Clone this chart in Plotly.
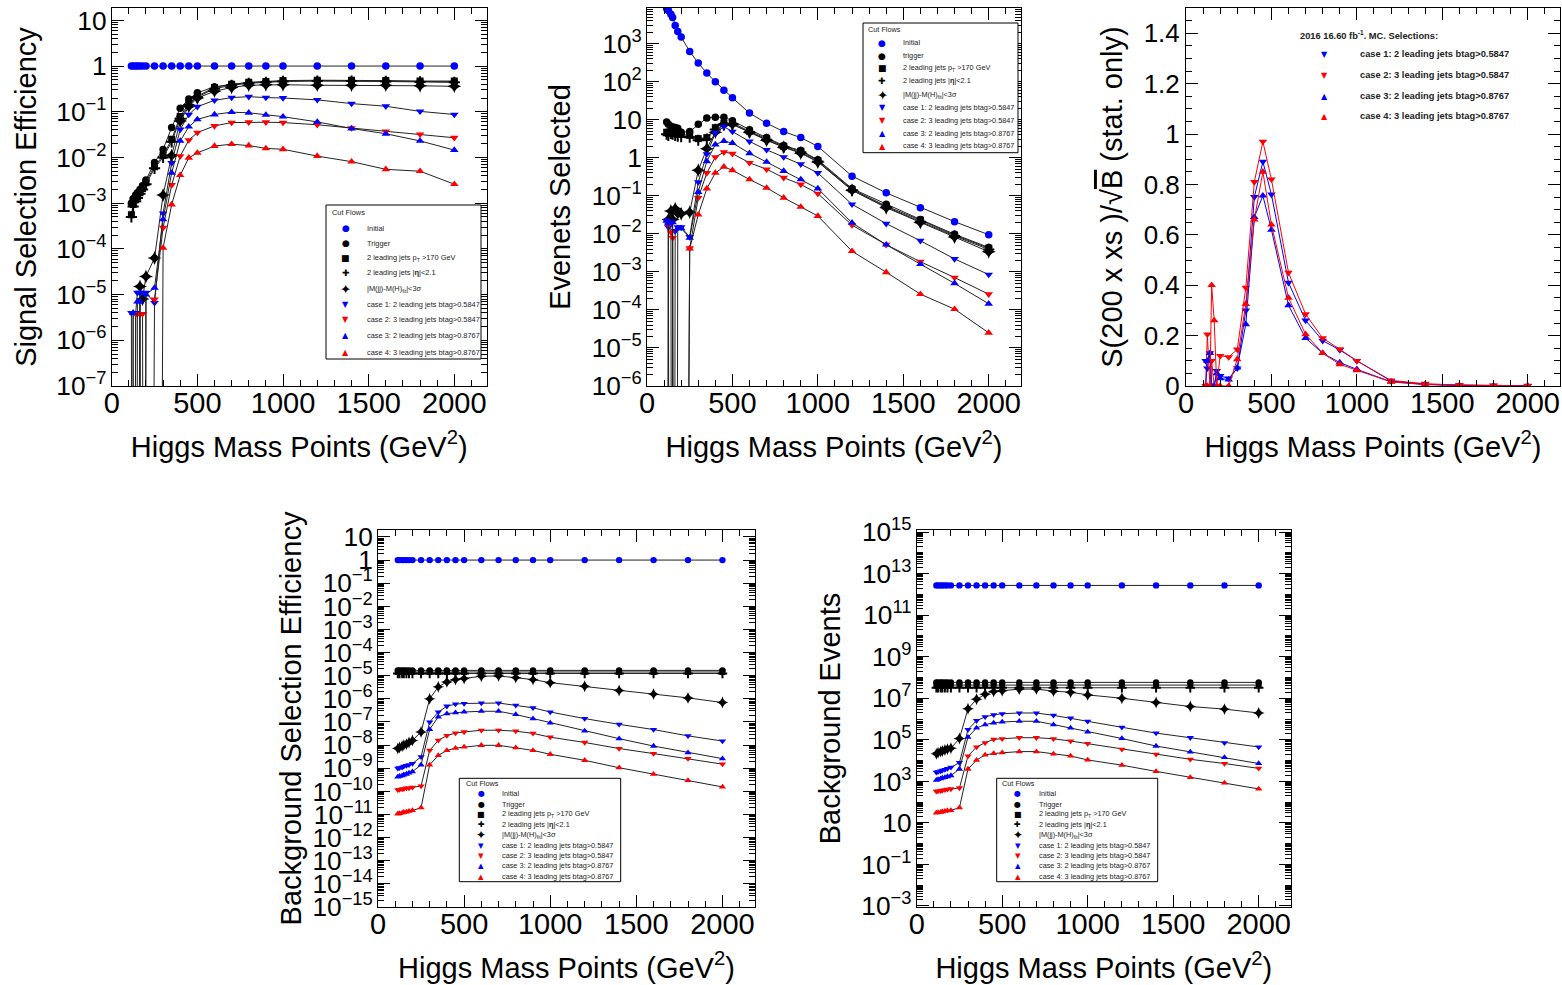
import plotly.graph_objects as go

W, H = 1562, 985

# ---------------- data ----------------
MASS = [115, 125, 140, 150, 165, 180, 200, 250, 300, 350, 400, 450, 500,
        600, 700, 800, 900, 1000, 1200, 1400, 1600, 1800, 2000]
X_TICKS = [0, 500, 1000, 1500, 2000]

SERIES_NAMES = ["Initial", "Trigger", "2 leading jets p<sub>T</sub> >170 GeV",
                "2 leading jets |<b>η</b>|<2.1", "|M(jj)-M(H)<sub>fit</sub>|<3σ",
                "case 1: 2 leading jets btag>0.5847", "case 2: 3 leading jets btag>0.5847",
                "case 3: 2 leading jets btag>0.8767", "case 4: 3 leading jets btag>0.8767"]
SERIES_NAMES_P2 = ["Initial", "trigger"] + SERIES_NAMES[2:]

# Panel 1: signal selection efficiency
sig_eff_initial = [1, 1, 1, 1, 1, 1, 1, 1, 1, 1, 1, 1, 1, 1, 1, 1, 1, 1, 1, 1, 1, 1, 1]
sig_eff_trigger = [1.0e-3, 1.25e-3, 1.5e-3, 1.7e-3, 2.0e-3, 2.4e-3, 3.2e-3, 7.8e-3, 1.5e-2, 4.5e-2, 1.2e-1, 1.9e-1,
                   2.6e-1, 3.5e-1, 4.0e-1, 4.3e-1, 4.5e-1, 4.7e-1, 4.8e-1, 4.8e-1, 4.7e-1, 4.6e-1, 4.5e-1]
sig_eff_pt = [5.6e-4, 9.3e-4, 1.2e-3, 1.4e-3, 1.7e-3, 2.1e-3, 2.8e-3, 6.3e-3, 1.1e-2, 2.5e-2, 7.9e-2, 1.5e-1,
              2.2e-1, 3.4e-1, 4.0e-1, 4.4e-1, 4.6e-1, 4.8e-1, 4.9e-1, 4.9e-1, 4.8e-1, 4.7e-1, 4.7e-1]
sig_eff_eta = [5.0e-4, 8.5e-4, 1.1e-3, 1.3e-3, 1.6e-3, 2.0e-3, 2.6e-3, 5.8e-3, 1.0e-2, 2.2e-2, 7.0e-2, 1.4e-1,
               2.1e-1, 3.2e-1, 3.8e-1, 4.2e-1, 4.4e-1, 4.6e-1, 4.7e-1, 4.7e-1, 4.6e-1, 4.5e-1, 4.4e-1]
sig_eff_mjj = [0, 0, 0, 0, 1.5e-5, 8.0e-6, 2.5e-5, 6.3e-5, 1.5e-3, 1.1e-2, 6.3e-2, 1.3e-1,
               2.0e-1, 2.8e-1, 3.4e-1, 3.8e-1, 3.9e-1, 3.9e-1, 3.8e-1, 3.8e-1, 3.8e-1, 3.7e-1, 3.6e-1]
sig_eff_case1 = [4.0e-6, 0, 4.0e-6, 1.1e-5, 1.1e-5, 0, 1.1e-5, 6.6e-6, 6.0e-4, 7.6e-3, 4.1e-2, 8.7e-2,
                 1.29e-1, 1.78e-1, 2.04e-1, 2.14e-1, 2.04e-1, 2.0e-1, 1.82e-1, 1.51e-1, 1.32e-1, 1.02e-1, 8.7e-2]
sig_eff_case2 = [0, 0, 3.8e-6, 3.8e-6, 3.8e-6, 3.8e-6, 0, 7.9e-6, 2.9e-4, 2.5e-3, 1.07e-2, 2.4e-2,
                 3.5e-2, 4.9e-2, 5.8e-2, 5.9e-2, 5.9e-2, 5.8e-2, 5.2e-2, 4.4e-2, 3.7e-2, 3.2e-2, 2.7e-2]
sig_eff_case3 = [0, 4.0e-6, 0, 7.0e-6, 7.0e-6, 0, 1.0e-5, 1.4e-5, 4.4e-4, 4.6e-3, 2.3e-2, 4.7e-2,
                 6.8e-2, 8.7e-2, 9.8e-2, 9.5e-2, 8.5e-2, 7.8e-2, 6.0e-2, 4.3e-2, 3.3e-2, 2.3e-2, 1.45e-2]
sig_eff_case4 = [0, 0, 0, 0, 0, 0, 0, 0, 1.05e-4, 9.3e-4, 4.1e-3, 9.8e-3,
                 1.26e-2, 1.78e-2, 1.95e-2, 1.82e-2, 1.58e-2, 1.51e-2, 1.07e-2, 8.1e-3, 5.5e-3, 5.0e-3, 2.6e-3]

# Panel 2: signal events selected
ev_initial = [8500, 7500, 6000, 4900, 3000, 2100, 1500, 630, 310, 170, 100, 60,
              38, 15, 8.1, 4.9, 3.4, 2.0, 0.33, 0.12, 0.049, 0.021, 0.0095]
ev_trigger = [8.7, 7.6, 6.8, 6.5, 6.3, 6.0, 4.7, 4.9, 7.6, 11.2, 11.7, 11.7,
              9.5, 5.5, 3.4, 2.1, 1.55, 0.89, 0.155, 0.060, 0.024, 0.0098, 0.0044]
ev_pt = [4.7, 4.4, 4.9, 4.7, 4.4, 4.1, 4.1, 3.9, 3.2, 3.4, 6.2, 8.0,
         8.3, 5.0, 3.2, 2.0, 1.5, 0.85, 0.148, 0.054, 0.023, 0.0093, 0.0042]
ev_eta = [4.2, 3.9, 4.4, 4.2, 3.9, 3.7, 3.6, 3.5, 2.9, 3.1, 5.6, 7.3,
          7.6, 4.7, 3.0, 1.9, 1.4, 0.80, 0.140, 0.051, 0.021, 0.0088, 0.0039]
ev_mjj = [0, 0.024, 0.040, 0.024, 0.046, 0.035, 0.034, 0.037, 0.47, 1.74, 4.7, 7.8,
          7.6, 4.7, 2.9, 1.9, 1.32, 0.78, 0.141, 0.049, 0.020, 0.0083, 0.0034]
ev_case1 = [0.022, 0.015, 0.020, 0, 0.012, 0.015, 0.015, 0.0083, 0.23, 1.26, 4.5, 6.6,
            4.9, 2.7, 1.62, 1.05, 0.68, 0.40, 0.060, 0.0186, 0.0066, 0.0022, 0.00085]
ev_case2 = [0, 0.017, 0.011, 0.0079, 0, 0, 0, 0.0042, 0.089, 0.40, 1.05, 1.41,
            1.29, 0.74, 0.50, 0.30, 0.20, 0.115, 0.017, 0.0052, 0.00186, 0.00071, 0.00026]
ev_case3 = [0.022, 0.019, 0, 0.020, 0, 0.014, 0.014, 0.0079, 0.126, 0.81, 2.24, 2.75,
            2.45, 1.32, 0.78, 0.45, 0.27, 0.155, 0.0195, 0.0052, 0.0016, 0.0005, 0.000145]
ev_case4 = [0, 0, 0, 0, 0, 0, 0, 0.0041, 0.032, 0.155, 0.40, 0.58,
            0.47, 0.27, 0.162, 0.089, 0.051, 0.0295, 0.0035, 0.00098, 0.00026, 0.000105, 0.000025]

# Panel 3: S/sqrt(B)
sb_case1 = [0.10, 0.07, 0.13, 0.0, 0.0, 0.06, 0.04, 0.03, 0.07, 0.30, 0.75, 0.89,
            0.76, 0.41, 0.26, 0.18, 0.143, 0.10, 0.02, 0.007, 0.003, 0.001, 0.0]
sb_case2 = [0.0, 0.205, 0.0, 0.10, 0.0, 0.0, 0.12, 0.115, 0.145, 0.39, 0.81, 0.97,
            0.82, 0.45, 0.285, 0.19, 0.146, 0.10, 0.022, 0.009, 0.004, 0.002, 0.001]
sb_case3 = [0.0, 0.10, 0.13, 0.0, 0.0, 0.05, 0.03, 0.025, 0.073, 0.245, 0.67, 0.755,
            0.62, 0.32, 0.19, 0.13, 0.093, 0.066, 0.017, 0.006, 0.002, 0.001, 0.0]
sb_case4 = [0.0, 0.0, 0.0, 0.40, 0.26, 0.0, 0.0, 0.0, 0.106, 0.325, 0.66, 0.85,
            0.64, 0.35, 0.205, 0.13, 0.086, 0.062, 0.016, 0.006, 0.003, 0.001, 0.0]
SB_NAMES = ["case 1: 2 leading jets btag>0.5847", "case 2: 3 leading jets btag>0.5847",
            "case 3: 2 leading jets btag>0.8767", "case 4: 3 leading jets btag>0.8767"]

# Panel 4: background selection efficiency
bg_eff_initial = [1, 1, 1, 1, 1, 1, 1, 1, 1, 1, 1, 1, 1, 1, 1, 1, 1, 1, 1, 1, 1, 1, 1]
bg_eff_trigger = [1.7e-5, 1.7e-5, 1.7e-5, 1.7e-5, 1.7e-5, 1.7e-5, 1.7e-5, 1.7e-5, 1.7e-5, 1.7e-5, 1.7e-5, 1.7e-5,
                  1.7e-5, 1.7e-5, 1.7e-5, 1.7e-5, 1.7e-5, 1.7e-5, 1.7e-5, 1.7e-5, 1.7e-5, 1.7e-5, 1.7e-5]
bg_eff_pt = [1.45e-5, 1.45e-5, 1.45e-5, 1.45e-5, 1.45e-5, 1.45e-5, 1.45e-5, 1.45e-5, 1.45e-5, 1.45e-5, 1.45e-5, 1.45e-5,
             1.45e-5, 1.45e-5, 1.45e-5, 1.45e-5, 1.45e-5, 1.45e-5, 1.45e-5, 1.45e-5, 1.45e-5, 1.45e-5, 1.45e-5]
bg_eff_eta = [1.25e-5, 1.25e-5, 1.25e-5, 1.25e-5, 1.25e-5, 1.25e-5, 1.25e-5, 1.25e-5, 1.25e-5, 1.25e-5, 1.25e-5, 1.25e-5,
              1.25e-5, 1.25e-5, 1.25e-5, 1.25e-5, 1.25e-5, 1.25e-5, 1.25e-5, 1.25e-5, 1.25e-5, 1.25e-5, 1.25e-5]
bg_eff_mjj = [7.1e-9, 7.9e-9, 8.9e-9, 1.0e-8, 1.1e-8, 1.3e-8, 1.6e-8, 3.7e-8, 1.0e-6, 3.3e-6, 5.4e-6, 6.8e-6,
              7.6e-6, 9.5e-6, 9.8e-6, 8.3e-6, 6.8e-6, 5.0e-6, 3.5e-6, 2.3e-6, 1.6e-6, 1.1e-6, 6.9e-7]
bg_eff_case1 = [1.0e-9, 1.05e-9, 1.1e-9, 1.2e-9, 1.3e-9, 1.4e-9, 1.6e-9, 3.1e-9, 1.0e-7, 2.7e-7, 4.8e-7, 5.9e-7,
                6.3e-7, 6.6e-7, 6.6e-7, 5.2e-7, 4.1e-7, 2.7e-7, 1.4e-7, 7.9e-8, 4.7e-8, 2.5e-8, 1.5e-8]
bg_eff_case2 = [1.17e-10, 1.2e-10, 1.26e-10, 1.3e-10, 1.38e-10, 1.4e-10, 1.5e-10, 1.7e-10, 5.9e-9, 1.6e-8, 2.6e-8, 3.3e-8,
                3.7e-8, 4.4e-8, 4.4e-8, 4.0e-8, 3.2e-8, 2.2e-8, 1.3e-8, 7.1e-9, 4.3e-9, 2.6e-9, 1.5e-9]
bg_eff_case3 = [4.2e-10, 4.5e-10, 4.8e-10, 5.2e-10, 5.6e-10, 6.3e-10, 7.1e-10, 1.4e-9, 4.8e-8, 1.66e-7, 2.3e-7, 2.5e-7,
                2.7e-7, 2.9e-7, 2.9e-7, 2.1e-7, 1.4e-7, 9.1e-8, 4.1e-8, 1.9e-8, 9.1e-9, 4.7e-9, 2.6e-9]
bg_eff_case4 = [1.07e-11, 1.1e-11, 1.17e-11, 1.26e-11, 1.3e-11, 1.4e-11, 1.5e-11, 1.95e-11, 1.4e-9, 3.6e-9, 5.9e-9, 7.4e-9,
                8.3e-9, 9.8e-9, 9.8e-9, 7.8e-9, 5.9e-9, 4.0e-9, 2.2e-9, 1.05e-9, 5.5e-10, 3.0e-10, 1.55e-10]

# Panel 5: background events
bg_ev_initial = [2.7e12, 2.7e12, 2.7e12, 2.7e12, 2.7e12, 2.7e12, 2.7e12, 2.7e12, 2.7e12, 2.7e12, 2.7e12, 2.7e12,
                 2.7e12, 2.7e12, 2.7e12, 2.7e12, 2.7e12, 2.7e12, 2.7e12, 2.7e12, 2.7e12, 2.7e12, 2.7e12]
bg_ev_trigger = [5.8e7, 5.8e7, 5.8e7, 5.8e7, 5.8e7, 5.8e7, 5.8e7, 5.8e7, 5.8e7, 5.8e7, 5.8e7, 5.8e7,
                 5.8e7, 5.8e7, 5.8e7, 5.8e7, 5.8e7, 5.8e7, 5.8e7, 5.8e7, 5.8e7, 5.8e7, 5.8e7]
bg_ev_pt = [4.3e7, 4.3e7, 4.3e7, 4.3e7, 4.3e7, 4.3e7, 4.3e7, 4.3e7, 4.3e7, 4.3e7, 4.3e7, 4.3e7,
            4.3e7, 4.3e7, 4.3e7, 4.3e7, 4.3e7, 4.3e7, 4.3e7, 4.3e7, 4.3e7, 4.3e7, 4.3e7]
bg_ev_eta = [3.2e7, 3.2e7, 3.2e7, 3.2e7, 3.2e7, 3.2e7, 3.2e7, 3.2e7, 3.2e7, 3.2e7, 3.2e7, 3.2e7,
             3.2e7, 3.2e7, 3.2e7, 3.2e7, 3.2e7, 3.2e7, 3.2e7, 3.2e7, 3.2e7, 3.2e7, 3.2e7]
bg_ev_mjj = [2.1e4, 2.4e4, 2.7e4, 2.9e4, 3.2e4, 3.5e4, 3.9e4, 1.15e5, 3.1e6, 8.9e6, 1.55e7, 2.1e7,
             2.3e7, 2.75e7, 2.75e7, 2.2e7, 1.95e7, 1.45e7, 1.0e7, 6.2e6, 4.0e6, 3.0e6, 1.95e6]
bg_ev_case1 = [2.7e3, 2.9e3, 3.1e3, 3.4e3, 3.7e3, 4.1e3, 4.7e3, 7.9e3, 3.1e5, 8.3e5, 1.26e6, 1.6e6,
               1.8e6, 1.95e6, 1.95e6, 1.5e6, 1.1e6, 7.8e5, 4.0e5, 2.1e5, 1.26e5, 7.2e4, 4.5e4]
bg_ev_case2 = [330, 340, 350, 370, 390, 410, 430, 480, 1.66e4, 4.5e4, 7.2e4, 1.05e5,
               1.12e5, 1.26e5, 1.26e5, 1.12e5, 8.7e4, 6.5e4, 3.5e4, 2.0e4, 1.15e4, 7.2e3, 4.2e3]
bg_ev_case3 = [1.15e3, 1.25e3, 1.35e3, 1.45e3, 1.55e3, 1.7e3, 1.9e3, 3.9e3, 1.35e5, 3.7e5, 5.4e5, 6.5e5,
               7.2e5, 7.8e5, 7.8e5, 5.4e5, 3.7e5, 2.4e5, 1.15e5, 5.0e4, 2.6e4, 1.4e4, 7.2e3]
bg_ev_case4 = [30, 32, 33, 35, 37, 39, 40, 54, 3.9e3, 1.05e4, 1.86e4, 2.2e4,
               2.4e4, 2.7e4, 2.7e4, 2.1e4, 1.66e4, 1.07e4, 6.0e3, 3.0e3, 1.55e3, 830, 430]

# ---------------- styling ----------------
FONT = "Liberation Sans, Arial, Helvetica, sans-serif"
BLUE = "#0000ff"
RED = "#ff0000"
BLACK = "#000000"
# (plotly symbol, colour, size, legend glyph, glyph scale)
STYLES = [("circle", BLUE, 7.5, "●", 1.0), ("circle", BLACK, 7.5, "●", 1.0),
          ("square", BLACK, 7, "■", 1.0), ("cross-thin", BLACK, 8, "✚", 1.0),
          ("star-diamond", BLACK, 10, "✦", 1.5), ("triangle-down", BLUE, 7.5, "▼", 0.9),
          ("triangle-down", RED, 7.5, "▼", 0.9), ("triangle-up", BLUE, 7.5, "▲", 0.9),
          ("triangle-up", RED, 7.5, "▲", 0.9)]
SB_STYLES = [STYLES[5], STYLES[6], STYLES[7], STYLES[8]]

TINY = 1e-40  # zero entries drawn as a drop to the bottom of a log axis


def floor_zero(vals):
    return [v if v > 0 else TINY for v in vals]


def pxx(x):
    return x / W


def pxy(y):
    return 1 - y / H


fig = go.Figure()

panels = [
    ("", [sig_eff_initial, sig_eff_trigger, sig_eff_pt, sig_eff_eta, sig_eff_mjj,
          sig_eff_case1, sig_eff_case2, sig_eff_case3, sig_eff_case4], 1.0),
    ("2", [ev_initial, ev_trigger, ev_pt, ev_eta, ev_mjj,
           ev_case1, ev_case2, ev_case3, ev_case4], 1.0),
    ("4", [bg_eff_initial, bg_eff_trigger, bg_eff_pt, bg_eff_eta, bg_eff_mjj,
           bg_eff_case1, bg_eff_case2, bg_eff_case3, bg_eff_case4], 0.85),
    ("5", [bg_ev_initial, bg_ev_trigger, bg_ev_pt, bg_ev_eta, bg_ev_mjj,
           bg_ev_case1, bg_ev_case2, bg_ev_case3, bg_ev_case4], 0.85),
]
for suffix, series, scale in panels:
    for vals, (sym, col, size, _, _), name in zip(series, STYLES, SERIES_NAMES):
        mline = dict(width=2, color=col) if sym == "cross-thin" else dict(width=0)
        fig.add_trace(go.Scatter(
            x=MASS, y=floor_zero(vals), mode="lines+markers", name=name,
            line=dict(color="#222222", width=1),
            marker=dict(symbol=sym, color=col, size=size * scale, line=mline),
            xaxis="x" + suffix, yaxis="y" + suffix, showlegend=False))

for vals, (sym, col, size, _, _), name in zip([sb_case1, sb_case2, sb_case3, sb_case4], SB_STYLES, SB_NAMES):
    fig.add_trace(go.Scatter(
        x=MASS, y=vals, mode="lines+markers", name=name,
        line=dict(color=col, width=1),
        marker=dict(symbol=sym, color=col, size=size, line=dict(width=0)),
        xaxis="x3", yaxis="y3", showlegend=False))

TICKFONT_X = dict(family=FONT, size=29, color="black")
TITLEFONT = dict(family=FONT, size=29, color="black")
XTITLE = "Higgs Mass Points (GeV<sup>2</sup>)"


def xaxis(domain, anchor):
    return dict(domain=domain, anchor=anchor, range=[0, 2189], tickvals=X_TICKS,
                ticktext=[str(v) for v in X_TICKS], automargin=False, ticklabelstandoff=-9,
                ticks="inside", ticklen=12, tickcolor="black", showline=True, linecolor="black",
                linewidth=1, mirror="ticks", showgrid=False, zeroline=False,
                minor=dict(ticks="inside", ticklen=6, dtick=100, tick0=0, tickcolor="black", showgrid=False),
                tickfont=TICKFONT_X, title=dict(text=XTITLE, font=TITLEFONT, standoff=18))


def ylog(domain, anchor, rng, title, dtick=1, tick0=0, standoff=12):
    return dict(domain=domain, anchor=anchor, type="log", range=rng, dtick=dtick, tick0=tick0,
                exponentformat="power", ticks="inside", ticklen=12, tickcolor="black",
                showline=True, linecolor="black", linewidth=1, mirror="ticks",
                showgrid=False, zeroline=False, automargin=False,
                minor=dict(ticks="inside", ticklen=6, dtick="D1", tickcolor="black", showgrid=False),
                tickfont=dict(family=FONT, size=21, color="black"),
                title=dict(text=title, font=TITLEFONT, standoff=standoff))


TOP = [pxy(386), pxy(8)]
BOT = [pxy(907), pxy(530)]

fig.update_layout(
    width=W, height=H, margin=dict(l=0, r=0, t=0, b=0, autoexpand=False),
    paper_bgcolor="white", plot_bgcolor="white",
    font=dict(family=FONT, color="black"),
    xaxis=xaxis([pxx(111.7), pxx(486.7)], "y"),
    yaxis=ylog(TOP, "x", [-7, 1.27], "Signal Selection Efficiency", standoff=11),
    xaxis2=xaxis([pxx(647), pxx(1021)], "y2"),
    yaxis2=ylog(TOP, "x2", [-6, 3.94], "Evenets Selected"),
    xaxis3=xaxis([pxx(1186), pxx(1560)], "y3"),
    yaxis3=dict(domain=TOP, anchor="x3", range=[0, 1.5], dtick=0.2, tick0=0, automargin=False,
                ticks="inside", ticklen=12, tickcolor="black", showline=True, linecolor="black",
                linewidth=1, mirror="ticks", showgrid=False, zeroline=False,
                minor=dict(ticks="inside", ticklen=6, dtick=0.05, tickcolor="black", showgrid=False),
                tickfont=dict(family=FONT, size=26, color="black"),
                title=dict(text="S(200 x xs )/√<span style='text-decoration:overline'>B</span> (stat. only)",
                           font=TITLEFONT, standoff=12)),
    xaxis4=xaxis([pxx(378), pxx(755)], "y4"),
    yaxis4=ylog(BOT, "x4", [-15, 1.3], "Background Selection Efficiency", standoff=2),
    xaxis5=xaxis([pxx(916.7), pxx(1291)], "y5"),
    yaxis5=ylog(BOT, "x5", [-3.05, 15.1], "Background Events", dtick=2, tick0=1),
)

# ---------------- legends (ROOT-style boxes) ----------------
shapes = []
annotations = []


def legend(box, title_xy, rows, sym_x, txt_x, names, styles, fs, gfs, bold=False, border=True):
    if border:
        shapes.append(dict(type="rect", xref="paper", yref="paper",
                           x0=pxx(box[0]), x1=pxx(box[2]), y0=pxy(box[3]), y1=pxy(box[1]),
                           line=dict(color="black", width=1), fillcolor="white", layer="above"))
    if title_xy is not None:
        t, tx, ty = title_xy
        annotations.append(dict(text=t, x=pxx(tx), y=pxy(ty), xref="paper", yref="paper",
                                xanchor="left", yanchor="middle", showarrow=False,
                                font=dict(family=FONT, size=fs, color="#222222")))
    for ry, name, (_, col, _, glyph, gscale) in zip(rows, names, styles):
        annotations.append(dict(text=glyph, x=pxx(sym_x), y=pxy(ry), xref="paper", yref="paper",
                                xanchor="center", yanchor="middle", showarrow=False,
                                font=dict(family="DejaVu Sans", size=gfs * gscale, color=col)))
        annotations.append(dict(text=("<b>%s</b>" % name) if bold else name,
                                x=pxx(txt_x), y=pxy(ry), xref="paper", yref="paper",
                                xanchor="left", yanchor="middle", showarrow=False,
                                font=dict(family=FONT, size=fs, color="#222222")))


legend((326, 205, 481, 359), ("Cut Flows", 330, 212),
       [228, 243, 258, 273, 289, 304, 319, 335, 352], 345.5, 364.5,
       SERIES_NAMES, STYLES, 7.4, 9)
legend((863, 23, 1018, 152.7), ("Cut Flows", 866, 30),
       [42.7, 55.7, 68.3, 81, 94.7, 107.3, 120, 133.3, 146], 882.3, 901,
       SERIES_NAMES_P2, STYLES, 7.3, 9)
legend((459.3, 778.3, 620.7, 881.7), ("Cut Flows", 464, 783.5),
       [793.3, 804, 814, 824.3, 835, 845, 855.3, 865.7, 876], 481, 500,
       SERIES_NAMES, STYLES, 7.3, 8)
legend((996.7, 778.3, 1157.7, 881.7), ("Cut Flows", 1000, 783.5),
       [793.3, 804, 814, 824.3, 835, 845, 855.3, 865.7, 876], 1017.7, 1036.7,
       SERIES_NAMES, STYLES, 7.3, 8)
legend(None, ("<b>2016 16.60 fb<sup>-1</sup>. MC. Selections:</b>", 1298, 35),
       [54, 75, 95.7, 116], 1324.3, 1357.7, SB_NAMES, SB_STYLES, 9.3, 9, bold=True, border=False)

fig.update_layout(shapes=shapes, annotations=annotations)

fig.write_html("out.html")
